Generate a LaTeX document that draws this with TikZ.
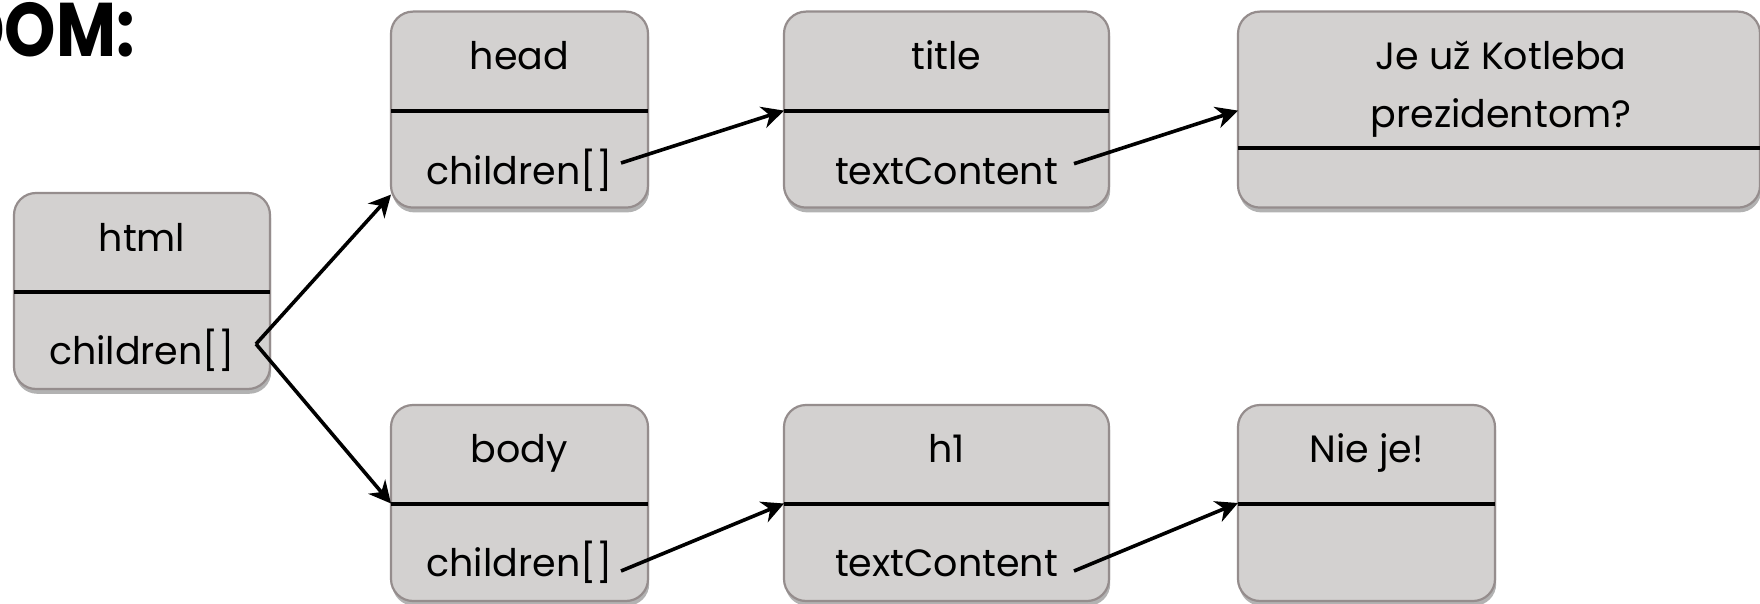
\documentclass[tikz,border=0pt]{standalone}
\usepackage{fontspec}
\setmainfont{Poppins}
\usetikzlibrary{arrows.meta,shadows,calc}
\definecolor{boxfill}{HTML}{D3D1D0}
\definecolor{boxborder}{HTML}{958D8D}
\begin{document}
\begin{tikzpicture}[x=0.5pt,y=-0.5pt,
  box/.style={draw=boxborder, line width=1.1pt, fill=boxfill, rounded corners=11pt,
    inner sep=0pt, outer sep=0pt, anchor=north west, minimum height=98pt,
    drop shadow={shadow xshift=0.6pt, shadow yshift=-2.4pt, fill=black, opacity=0.3}},
  divider/.style={line width=2pt, black},
  lbl/.style={anchor=base, inner sep=0pt, font=\fontsize{19}{24}\selectfont},
  conn/.style={line width=1.8pt, black, -{Stealth[length=11pt,width=11pt,inset=3.5pt]}}]
\useasboundingbox (0,0) rectangle (1760,604);
\fill[white] (0,0) rectangle (1760,604);

% title (partly off the page, as in the reference)
\node[font=\fontsize{38}{44}\selectfont\bfseries, anchor=base east, inner sep=0pt,
  xscale=0.86, transform shape] (dom) at (135,57) {DOM:};

% boxes
\node[box, minimum width=128pt] (html) at (14,193) {};
\node[box, minimum width=128.5pt] (head) at (391,11.6) {};
\node[box, minimum width=162.5pt] (title) at (784,11.6) {};
\node[box, minimum width=261pt] (je) at (1238,11.6) {};
\node[box, minimum width=128.5pt] (body) at (391,405) {};
\node[box, minimum width=162.5pt] (h1) at (784,405) {};
\node[box, minimum width=128.5pt] (nie) at (1238,405) {};

% dividers
\draw[divider] ($(html.north west)+(0,98.6)$) -- ($(html.north east)+(0,98.6)$);
\draw[divider] ($(head.north west)+(0,99)$) -- ($(head.north east)+(0,99)$);
\draw[divider] ($(title.north west)+(0,99)$) -- ($(title.north east)+(0,99)$);
\draw[divider] ($(je.north west)+(0,136)$) -- ($(je.north east)+(0,136)$);
\draw[divider] ($(body.north west)+(0,98.5)$) -- ($(body.north east)+(0,98.5)$);
\draw[divider] ($(h1.north west)+(0,98.5)$) -- ($(h1.north east)+(0,98.5)$);
\draw[divider] ($(nie.north west)+(0,98.5)$) -- ($(nie.north east)+(0,98.5)$);

% labels
\node[lbl] (htmlT) at ($(html.north)+(0,58)$) {html};
\node[lbl] (htmlC) at ($(html.north)+(0,171)$) {children[]};
\node[lbl] (headT) at ($(head.north)+(0,57.7)$) {head};
\node[lbl] (headC) at ($(head.north)+(0,173)$) {children[]};
\node[lbl] (titleT) at ($(title.north)+(0,57.7)$) {title};
\node[lbl] (titleC) at ($(title.north)+(0,172.5)$) {textContent};
\node[lbl] (jeA) at ($(je.north)+(2,57.7)$) {Je už Kotleba};
\node[lbl] (jeB) at ($(je.north)+(2,115.7)$) {prezidentom?};
\node[lbl] (bodyT) at ($(body.north)+(0,57)$) {body};
\node[lbl] (bodyC) at ($(body.north)+(0,171)$) {children[]};
\node[lbl] (h1T) at ($(h1.north)+(0,57)$) {h1};
\node[lbl] (h1C) at ($(h1.north)+(0,171.5)$) {textContent};
\node[lbl] (nieT) at ($(nie.north)+(0,57)$) {Nie je!};

% connector ends
\coordinate (hc) at (256,344);
\coordinate (headout) at (621,163);
\coordinate (titleout) at (1074,163.7);
\coordinate (bodyout) at (621,571);
\coordinate (h1out) at (1074,571);
\coordinate (headin) at ($(head.north west)+(0,183)$);
\coordinate (bodyin) at ($(body.north west)+(0,98.5)$);
\coordinate (titlein) at ($(title.north west)+(0,99)$);
\coordinate (h1in) at ($(h1.north west)+(0,98.5)$);
\coordinate (jein) at ($(je.north west)+(0,99)$);
\coordinate (niein) at ($(nie.north west)+(0,98)$);

% connectors
\draw[conn] (hc) -- (headin);
\draw[conn] (hc) -- (bodyin);
\draw[conn] (headout) -- (titlein);
\draw[conn] (bodyout) -- (h1in);
\draw[conn] (titleout) -- (jein);
\draw[conn] (h1out) -- (niein);
\end{tikzpicture}
\end{document}
